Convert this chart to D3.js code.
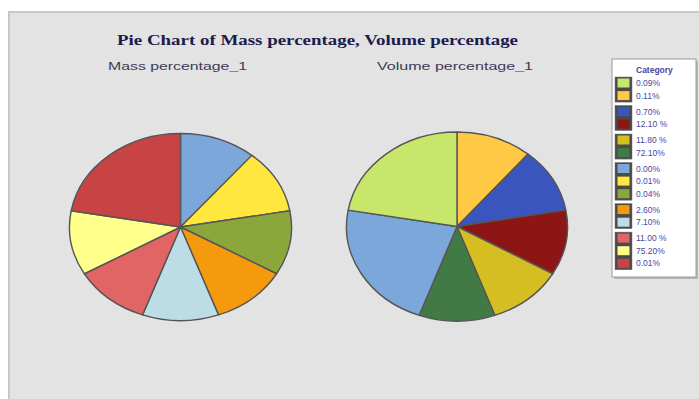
<!DOCTYPE html>
<html>
<head>
<meta charset="utf-8">
<script src="https://cdn.jsdelivr.net/npm/d3@7/dist/d3.min.js"></script>
<style>
  html, body { margin: 0; padding: 0; background: #ffffff; }
  svg { display: block; }
</style>
</head>
<body>
<svg id="chart" width="699" height="399"></svg>
<script>
// ---- data ----
const chartTitle = "Pie Chart of Mass percentage, Volume percentage";
const pieTitles = ["Mass percentage_1", "Volume percentage_1"];
const legendTitle = "Category";
const categories = ["0.09%", "0.11%", "0.70%", "12.10 %", "11.80 %", "72.10%", "0.00%",
                    "0.01%", "0.04%", "2.60%", "7.10%", "11.00 %", "75.20%", "0.01%"];
const categoryColors = ["#c8e66a", "#ffc845", "#3a55bd", "#8e1515", "#d4be22", "#427a45", "#7ba7da",
                        "#ffe740", "#8ba63a", "#f59a0c", "#bcdde6", "#e26565", "#ffff8c", "#c84444"];
const legendGroupSizes = [2, 2, 2, 3, 2, 3];
// slices clockwise from 12 o'clock: category index and count
const massCategoryIdx = [6, 7, 8, 9, 10, 11, 12, 13];
const massCounts      = [1, 1, 1, 1, 1, 1, 1, 2];
const volumeCategoryIdx = [1, 2, 3, 4, 5, 6, 0];
const volumeCounts      = [1, 1, 1, 1, 1, 2, 2];

// ---- drawing ----
const svg = d3.select("#chart");

// panel with shadowed left/top edge
svg.append("rect").attr("x", 8).attr("y", 11).attr("width", 691).attr("height", 388).attr("fill", "#c8c8c8");
svg.append("rect").attr("x", 10).attr("y", 13).attr("width", 689).attr("height", 386).attr("fill", "#e3e3e3");

svg.append("text")
  .attr("x", 117).attr("y", 45)
  .attr("textLength", 401).attr("lengthAdjust", "spacingAndGlyphs")
  .attr("font-family", "Liberation Serif, Times New Roman, serif")
  .attr("font-weight", "bold").attr("font-size", 14)
  .attr("fill", "#1c1c4c")
  .text(chartTitle);

const pies = [
  { cx: 180.5, cy: 227, rx: 111, ry: 93.5, idx: massCategoryIdx, counts: massCounts, tx: 108, tw: 139 },
  { cx: 457, cy: 226.5, rx: 110.5, ry: 94.5, idx: volumeCategoryIdx, counts: volumeCounts, tx: 377, tw: 156 }
];

const pieGen = d3.pie().sort(null).value(d => d.count);

pies.forEach((p, k) => {
  svg.append("text")
    .attr("x", p.tx).attr("y", 70)
    .attr("textLength", p.tw).attr("lengthAdjust", "spacingAndGlyphs")
    .attr("font-family", "Liberation Sans, Arial, sans-serif")
    .attr("font-size", 11)
    .attr("fill", "#3e3a58")
    .text(pieTitles[k]);

  const data = p.idx.map((c, i) => ({ cat: c, count: p.counts[i] }));
  const arcs = pieGen(data);
  const arc = d3.arc().innerRadius(0).outerRadius(p.ry);
  const g = svg.append("g")
    .attr("transform", `translate(${p.cx},${p.cy}) scale(${p.rx / p.ry},1)`);
  g.selectAll("path").data(arcs).join("path")
    .attr("d", arc)
    .attr("fill", d => categoryColors[d.data.cat])
    .attr("stroke", "#555555")
    .attr("stroke-width", 1.4)
    .attr("vector-effect", "non-scaling-stroke")
    .attr("stroke-linejoin", "round");
});

// legend
const lg = svg.append("g");
lg.append("rect").attr("x", 614).attr("y", 61).attr("width", 84).attr("height", 218).attr("fill", "#b8b8b8");
lg.append("rect").attr("x", 612).attr("y", 59).attr("width", 84).attr("height", 218)
  .attr("fill", "#ffffff").attr("stroke", "#9a9a9a").attr("stroke-width", 1);
lg.append("text").attr("x", 636).attr("y", 73)
  .attr("font-family", "Liberation Sans, Arial, sans-serif").attr("font-size", 8.5).attr("font-weight", "bold")
  .attr("fill", "#4a46a0").text(legendTitle);

const rowStep = 12.6, groupGap = 3.3;
let y = 83, ci = 0;
legendGroupSizes.forEach(size => {
  const rows = d3.range(size).map(j => y + j * rowStep);
  lg.append("rect")
    .attr("x", 615).attr("y", rows[0] - 6)
    .attr("width", 17).attr("height", rows[rows.length - 1] - rows[0] + 12.5)
    .attr("fill", "#4a4a4a").attr("stroke", "#777").attr("stroke-width", 0.5);
  rows.forEach(ry => {
    lg.append("rect").attr("x", 617.5).attr("y", ry - 4.5).attr("width", 12).attr("height", 9)
      .attr("fill", categoryColors[ci]);
    lg.append("text").attr("x", 636).attr("y", ry + 3)
      .attr("font-family", "Liberation Sans, Arial, sans-serif").attr("font-size", 8.5)
      .attr("fill", "#4a46a0").text(categories[ci]);
    ci++;
  });
  y += size * rowStep + groupGap;
});
</script>
</body>
</html>
